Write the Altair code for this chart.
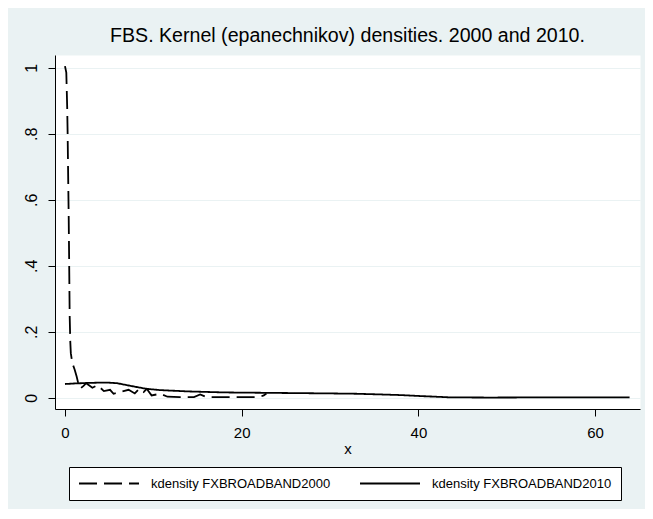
import altair as alt
import pandas as pd

# ---- data ----
x2000 = [0, 0.15, 0.25, 0.3, 0.37, 0.42, 0.47, 0.53, 0.6, 0.66, 0.83, 1.1, 1.32, 1.58, 1.75,
         2.1, 2.4, 3.1, 3.7, 4.4, 5.1, 5.5, 6.3, 7.2, 7.9, 8.4, 8.9, 9.25, 9.8, 10.8, 11.6,
         13.0, 14.6, 15.3, 16.0, 18.0, 20.0, 22.0, 22.5, 22.8]
y2000 = [1.005, 0.985, 0.88, 0.80, 0.65, 0.55, 0.42, 0.25, 0.17, 0.135, 0.105, 0.085, 0.064, 0.035, 0.028,
         0.036, 0.044, 0.030, 0.038, 0.020, 0.024, 0.012, 0.018, 0.024, 0.013, 0.027, 0.017, 0.027, 0.007, 0.012, 0.003,
         0.002, 0.002, 0.010, 0.002, 0.002, 0.002, 0.002, 0.007, 0.013]

x2010 = [0, 1, 2.8, 4.7, 5.9, 7.4, 9.2, 10.8, 14, 18, 22, 26, 30, 33, 35.6, 38, 40.2, 42, 43.6,
         48, 55, 60, 63.9]
y2010 = [0.0415, 0.043, 0.045, 0.046, 0.044, 0.036, 0.027, 0.023, 0.019, 0.016, 0.015, 0.014, 0.013,
         0.012, 0.010, 0.008, 0.005, 0.003, 0.001, 0.0005, 0.001, 0.001, 0.001]

series_names = ["kdensity FXBROADBAND2000", "kdensity FXBROADBAND2010"]
x_ticks = [0, 20, 40, 60]
y_ticks = [0, 0.2, 0.4, 0.6, 0.8, 1.0]
y_tick_labels = ["0", ".2", ".4", ".6", ".8", "1"]
title_text = "FBS. Kernel (epanechnikov) densities. 2000 and 2010."

rows = []
for i, (a, b) in enumerate(zip(x2000, y2000)):
    rows.append({"x": a, "y": b, "series": series_names[0], "order": i})
for i, (a, b) in enumerate(zip(x2010, y2010)):
    rows.append({"x": a, "y": b, "series": series_names[1], "order": i})
df = pd.DataFrame(rows)

label_expr = " : ".join(
    f"abs(datum.value - {v}) < 1e-9 ? '{l}'" for v, l in zip(y_ticks, y_tick_labels)
) + " : ''"

FONT = "Liberation Sans"
BG = "#EAF2F3"

chart = alt.Chart(df).mark_line(color="black", strokeWidth=1.8).encode(
    x=alt.X("x:Q",
            scale=alt.Scale(domain=[-1.13, 65.08], nice=False, zero=False),
            axis=alt.Axis(values=x_ticks, title="x", grid=False, tickSize=7,
                          labelPadding=9, titlePadding=1, format="d")),
    y=alt.Y("y:Q",
            scale=alt.Scale(domain=[-0.0342, 1.0385], nice=False, zero=False),
            axis=alt.Axis(values=y_ticks, title=None, grid=True, gridColor=BG,
                          gridWidth=1.2, tickSize=7, labelAngle=270,
                          labelAlign="center", labelBaseline="bottom",
                          labelPadding=9, labelFontSize=16, labelExpr=label_expr)),
    strokeDash=alt.StrokeDash("series:N",
                              scale=alt.Scale(domain=series_names,
                                              range=[[18, 7], [1, 0]]),
                              legend=alt.Legend(title=None, orient="none",
                                                legendX=14, legendY=412,
                                                direction="horizontal",
                                                columns=2, columnPadding=28,
                                                padding=9, fillColor="white",
                                                strokeColor="black",
                                                symbolType="stroke",
                                                symbolSize=3600,
                                                symbolStrokeWidth=1.8,
                                                symbolStrokeColor="black",
                                                labelFontSize=13,
                                                labelFont=FONT,
                                                labelColor="black",
                                                labelOffset=11,
                                                labelLimit=400,
                                                clipHeight=15)),
    order="order:Q",
).properties(
    width=585,
    height=354,
    title=alt.TitleParams(title_text, font=FONT, fontSize=19.6, fontWeight="normal",
                          color="black", anchor="middle", frame="group", offset=8),
    autosize=alt.AutoSizeParams(type="none"),
    padding={"left": 47, "top": 47, "right": 5, "bottom": 100},
).configure(
    background=BG,
).configure_view(
    fill="white", stroke="transparent",
).configure_axis(
    domainColor="black", domainWidth=1, tickColor="black", tickWidth=1,
    labelColor="black", labelFont=FONT, labelFontSize=15,
    titleColor="black", titleFont=FONT, titleFontSize=15, titleFontWeight="normal",
)

chart.save("out.html", embed_options={"renderer": "svg", "actions": False})
